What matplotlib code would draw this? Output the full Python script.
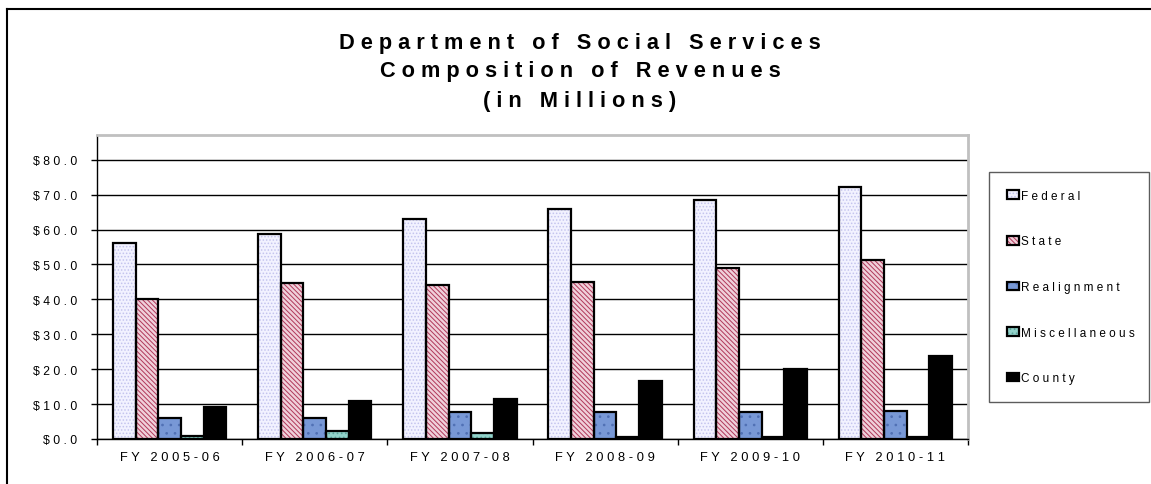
import numpy as np
import matplotlib
matplotlib.use('Agg')
import matplotlib.pyplot as plt
from matplotlib.lines import Line2D

plt.rcParams['font.family'] = ['Liberation Sans', 'DejaVu Sans']
plt.rcParams['hatch.linewidth'] = 0.7

# Revenue sources by fiscal year, in millions of dollars
years = ['FY 2005-06', 'FY 2006-07', 'FY 2007-08', 'FY 2008-09', 'FY 2009-10', 'FY 2010-11']
federal = [56.2, 58.6, 63.1, 65.9, 68.5, 72.2]
state = [40.0, 44.7, 44.1, 45.1, 48.9, 51.3]
realignment = [6.1, 6.1, 7.8, 7.8, 7.8, 8.0]
miscellaneous = [0.9, 2.3, 1.7, 0.5, 0.5, 0.5]
county = [9.1, 10.9, 11.5, 16.7, 20.0, 23.9]

series_names = ['Federal', 'State', 'Realignment', 'Miscellaneous', 'County']
y_ticks = [0, 10, 20, 30, 40, 50, 60, 70, 80]
title_lines = ['Department of Social Services', 'Composition of Revenues', '(in Millions)']

# fill colour, hatch colour, hatch pattern for each source
styles = [
    ('#f2f2ff', '#c4c4ee', '.....'),
    ('#f0d0da', '#b0385a', '\\\\\\\\\\\\\\'),
    ('#7898d6', '#5070b4', '..'),
    ('#92d2ca', '#5aa49a', '....'),
    ('#000000', '#000000', None),
]


def spaced(s):
    # wide letter spacing, the way the old spreadsheet export drew its text
    return ' '.join(s)


fig = plt.figure(figsize=(11.51, 4.85), dpi=100)
ax = fig.add_axes([97 / 1151, 1 - 440 / 485, (968 - 97) / 1151, (440 - 136) / 485])

x = np.arange(len(years))
width = 0.156
values = [federal, state, realignment, miscellaneous, county]

handles = []
for i, (vals, (fc, hc, hatch)) in enumerate(zip(values, styles)):
    pos = x + (i - 2) * width
    fill = ax.bar(pos, vals, width, color=fc, edgecolor=hc, hatch=hatch,
                  linewidth=0, zorder=3)
    edge = ax.bar(pos, vals, width, fill=False, edgecolor='black',
                  linewidth=1.6, zorder=4)
    handles.append((fill.patches[0], edge.patches[0]))

ax.set_xlim(-0.5, len(years) - 0.5)
ax.set_ylim(0, 87.1)

ax.set_yticks(y_ticks)
ax.set_yticklabels([spaced(f'${v:.1f}') for v in y_ticks], fontsize=8.8)
ax.yaxis.grid(True, color='black', linewidth=1, zorder=0)
ax.tick_params(axis='y', length=4, width=1, pad=10, colors='black')

ax.set_xticks(x)
ax.set_xticklabels([spaced(y) for y in years], fontsize=9.3)
ax.set_xticks(np.arange(-0.5, len(years)), minor=True)
ax.tick_params(axis='x', which='major', length=0, pad=9)
ax.tick_params(axis='x', which='minor', length=4, width=1)

for side in ['top', 'right']:
    ax.spines[side].set_color('#c0c0c0')
    ax.spines[side].set_linewidth(2)
for side in ['left', 'bottom']:
    ax.spines[side].set_color('black')
    ax.spines[side].set_linewidth(1)

# Title, one line at a time
for text, ypix in zip(title_lines, [43, 72, 102]):
    fig.text(580 / 1151, 1 - ypix / 485, spaced(text), ha='center', va='center',
             fontsize=15.7, fontweight='bold')

# Legend box fixed to its own width on the right of the plot
leg = fig.legend(handles, [spaced(n) for n in series_names],
                 loc='upper left',
                 bbox_to_anchor=(989 / 1151, 1 - 407 / 485, 160 / 1151, 234 / 485),
                 mode='expand', fontsize=8.5, frameon=True, fancybox=False,
                 edgecolor='#333333', handlelength=1.0, handleheight=0.75,
                 handletextpad=0.2, labelspacing=2.85, borderpad=1.5,
                 borderaxespad=0)
leg.get_frame().set_linewidth(1)

# Outer chart border
fig.add_artist(Line2D([7 / 1151, 7 / 1151], [0, 1 - 10 / 485], color='black', linewidth=1.5))
fig.add_artist(Line2D([7 / 1151, 1], [1 - 10 / 485, 1 - 10 / 485], color='black', linewidth=1.5))

fig.savefig('out.png', dpi=100)
